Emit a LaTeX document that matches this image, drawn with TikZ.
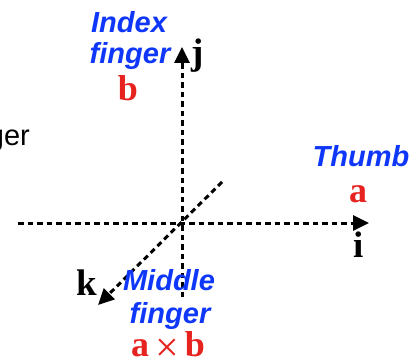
\documentclass[tikz,border=0pt]{standalone}
\usepackage{fontspec}
\setmainfont{Liberation Serif}
\newfontfamily\hel{Liberation Sans}
\usetikzlibrary{arrows.meta}
\definecolor{fblue}{RGB}{15,55,250}
\definecolor{vred}{RGB}{230,35,30}
\tikzset{
  axisline/.style={line width=3pt, dash pattern=on 5.5pt off 4pt},
  tipped/.style={-{Triangle[length=16pt,width=15pt]}},
  finglab/.style={text=fblue, font=\hel\bfseries\itshape\fontsize{29}{29}\selectfont, anchor=base, inner sep=0pt},
  veclab/.style={text=vred, font=\bfseries\fontsize{36}{36}\selectfont, anchor=base, inner sep=0pt},
  unitlab/.style={text=black, font=\bfseries\fontsize{37}{37}\selectfont, anchor=base, inner sep=0pt},
  partlab/.style={text=black, font=\hel\fontsize{29}{29}\selectfont, anchor=base east, inner sep=0pt},
}
\begin{document}
\begin{tikzpicture}[x=1pt,y=-1pt]
\useasboundingbox (0,0) rectangle (419,363);
\fill[white] (0,0) rectangle (419,363);
% axes end points
\coordinate (O) at (182,223);
\coordinate (xl) at (18,223);
\coordinate (xr) at (369,223);
\coordinate (yb) at (182,297);
\coordinate (yt) at (182,47);
\coordinate (zb) at (222,182);
\coordinate (zf) at (98,305);
\draw[axisline,tipped] (xl) -- (xr);
\draw[axisline,tipped] (yb) -- (yt);
\draw[axisline,tipped] (zb) -- (zf);
% labels
\node[finglab] (index) at (129,33) {Index};
\node[finglab] (fingI) at (130,64) {finger};
\node[veclab] (b) at (128,101) {b};
\node[unitlab] (j) at (198,65) {j};
\node[finglab] (thumb) at (361,167) {Thumb};
\node[veclab] (a) at (358,202) {a};
\node[unitlab] (i) at (359,257) {i};
\node[unitlab] (k) at (87,295) {k};
\node[finglab] (middle) at (169,290) {Middle};
\node[finglab] (fingM) at (170,323) {finger};
\node[veclab] (axb) at (168,356) {a\,\raisebox{-5pt}{\mdseries\fontsize{42}{42}\selectfont ×}\,b};
\begin{scope}
\clip (0,0) rectangle (419,363);
\node[partlab] (ger) at (30,146) {ger};
\end{scope}
\end{tikzpicture}
\end{document}
